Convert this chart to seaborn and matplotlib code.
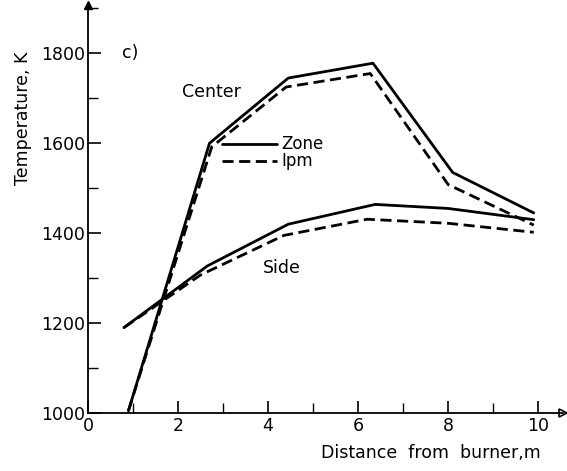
import matplotlib
matplotlib.use("Agg")
import matplotlib.pyplot as plt
import seaborn as sns
import pandas as pd
from matplotlib.ticker import MultipleLocator

sns.set_style("ticks")
plt.rcParams['font.family'] = ['DejaVu Sans']
plt.rcParams.update({"text.color": "black", "axes.labelcolor": "black",
                     "xtick.color": "black", "ytick.color": "black",
                     "axes.edgecolor": "black"})

# Data
center_zone_x = [0.9, 2.7, 4.45, 6.33, 8.1, 9.9]
center_zone_y = [1005, 1600, 1745, 1778, 1535, 1445]
center_ipm_x = [0.9, 2.75, 4.4, 6.27, 8.0, 9.9]
center_ipm_y = [1005, 1592, 1725, 1755, 1508, 1418]
side_zone_x = [0.8, 2.65, 4.45, 6.38, 8.0, 9.9]
side_zone_y = [1190, 1327, 1420, 1464, 1455, 1430]
side_ipm_x = [0.8, 2.5, 4.35, 6.2, 8.0, 9.9]
side_ipm_y = [1190, 1307, 1395, 1431, 1422, 1402]

x_ticks = [0, 2, 4, 6, 8, 10]
y_ticks = [1000, 1200, 1400, 1600, 1800]

df = pd.concat([
    pd.DataFrame({"x": center_zone_x, "y": center_zone_y, "curve": "center", "model": "Zone"}),
    pd.DataFrame({"x": center_ipm_x, "y": center_ipm_y, "curve": "center", "model": "Ipm"}),
    pd.DataFrame({"x": side_zone_x, "y": side_zone_y, "curve": "side", "model": "Zone"}),
    pd.DataFrame({"x": side_ipm_x, "y": side_ipm_y, "curve": "side", "model": "Ipm"}),
])

fig = plt.figure(figsize=(5.67, 4.71), dpi=100)
ax = fig.add_axes([0.155, 0.123, 0.838, 0.866])

for (curve, model), sub in df.groupby(["curve", "model"], sort=False):
    sns.lineplot(data=sub, x="x", y="y", ax=ax, color="black", lw=2.0,
                 linestyle="-" if model == "Zone" else (0, (4, 2)),
                 sort=False, estimator=None, legend=False)

ax.set_xlim(0, 10.55)
ax.set_ylim(1000, 1907)
ax.set_xticks(x_ticks)
ax.set_yticks(y_ticks)
ax.xaxis.set_minor_locator(MultipleLocator(1))
ax.yaxis.set_minor_locator(MultipleLocator(100))
ax.tick_params(which="major", direction="in", length=9, width=1.2, labelsize=12.5, pad=2)
ax.tick_params(which="minor", direction="in", length=7, width=1.0)
ax.tick_params(axis="x", which="major", pad=3)
ax.set_yticklabels([str(v) for v in y_ticks])
sns.despine(ax=ax)
for s in ["left", "bottom"]:
    ax.spines[s].set_linewidth(1.3)

# axis arrows
ax.plot(1, 1000, ">", color="black", ms=6, transform=ax.get_yaxis_transform(), clip_on=False,
        markerfacecolor="white", markeredgewidth=1.2)
ax.plot(0, 1, "^", color="black", ms=6, transform=ax.get_xaxis_transform(), clip_on=False)

ax.set_xlabel("Distance  from  burner,m", fontsize=12.5)
ax.xaxis.set_label_coords(0.722, -0.075)
ax.set_ylabel("Temperature, K", fontsize=12.5)
ax.yaxis.set_label_coords(-0.117, 0.723)

# annotations
ax.text(0.75, 1800, "c)", fontsize=12.5, va="center", ha="left")
ax.text(2.75, 1713, "Center", fontsize=12.5, va="center", ha="center")
ax.text(4.3, 1322, "Side", fontsize=12.5, va="center", ha="center")
ax.plot([2.98, 4.2], [1598, 1598], color="black", lw=2.0)
ax.plot([2.98, 4.2], [1561, 1561], color="black", lw=2.0, linestyle=(0, (4, 2)))
ax.text(4.3, 1598, "Zone", fontsize=12, va="center", ha="left")
ax.text(4.3, 1561, "Ipm", fontsize=12, va="center", ha="left")

fig.savefig("out.png", dpi=100)
